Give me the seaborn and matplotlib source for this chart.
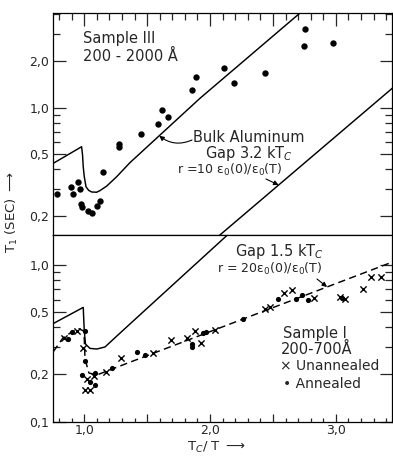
import numpy as np
import pandas as pd
import matplotlib
matplotlib.use("Agg")
import matplotlib.pyplot as plt
import seaborn as sns
from matplotlib.ticker import FixedLocator, FixedFormatter, NullFormatter

# ---------------- data ----------------
# Upper panel: Sample III, 200-2000 A
s3_x = [0.781, 0.892, 0.948, 0.908, 0.966, 0.971, 0.984, 1.027, 1.059, 1.099, 1.127,
        1.146, 1.276, 1.276, 1.451, 1.588, 1.620, 1.663, 1.856, 1.888, 2.108, 2.190,
        2.436, 2.754, 2.749, 2.979]
s3_y = [0.276, 0.306, 0.333, 0.277, 0.297, 0.239, 0.228, 0.216, 0.210, 0.234, 0.251,
        0.386, 0.583, 0.555, 0.673, 0.781, 0.966, 0.875, 1.30, 1.58, 1.79, 1.44,
        1.67, 3.21, 2.51, 2.62]

bulk_top_x = [0.754, 0.979, 0.986, 0.992, 1.000, 1.014, 1.035, 1.059, 1.099, 1.125,
              1.178, 1.258, 1.363, 1.920, 2.715, 2.750]
bulk_top_y = [0.438, 0.560, 0.500, 0.416, 0.360, 0.309, 0.293, 0.286, 0.285, 0.292,
              0.312, 0.359, 0.442, 1.15, 4.08, 4.32]

gap32_x = [2.07, 3.46]
gap32_y = [0.149, 1.36]

# Lower panel: Sample I, 200-700 A
unann_x = [0.837, 0.942, 0.987, 1.019, 1.077, 1.002, 1.044, 1.176, 1.296, 1.548, 1.688,
           1.814, 1.880, 1.928, 2.043, 2.436, 2.480, 2.587, 2.649, 2.826, 3.033, 3.072,
           3.213, 3.283, 3.362]
unann_y = [0.340, 0.379, 0.296, 0.186, 0.195, 0.160, 0.160, 0.206, 0.253, 0.272, 0.330,
           0.340, 0.379, 0.315, 0.383, 0.521, 0.541, 0.662, 0.695, 0.611, 0.626, 0.605,
           0.702, 0.833, 0.841]

ann_x = [0.870, 0.904, 1.002, 1.002, 0.979, 1.048, 1.085, 1.089, 1.218, 1.417, 1.483,
         1.860, 1.858, 1.946, 1.967, 2.264, 2.538, 2.680, 2.728, 2.776, 3.052]
ann_y = [0.336, 0.373, 0.377, 0.245, 0.199, 0.179, 0.204, 0.171, 0.220, 0.279, 0.264,
         0.312, 0.297, 0.366, 0.370, 0.454, 0.608, 0.605, 0.642, 0.599, 0.617]

bulk_bot_x = [0.754, 0.992, 0.996, 1.000, 1.010, 1.045, 1.099, 1.165, 1.240, 1.363, 2.134, 2.170]
bulk_bot_y = [0.422, 0.535, 0.450, 0.380, 0.312, 0.293, 0.290, 0.299, 0.340, 0.419, 1.54, 1.64]

gap15_x = [0.754, 0.831, 0.902, 0.958, 0.998, 1.006, 1.037, 1.099, 1.284, 3.46]
gap15_y = [0.279, 0.342, 0.373, 0.391, 0.377, 0.251, 0.204, 0.198, 0.226, 1.05]

x_major = [1.0, 1.5, 2.0, 2.5, 3.0]
x_major_labels = ["1,0", "", "2,0", "", "3,0"]
x_minor = [0.8, 0.9, 1.1, 1.2, 1.3, 1.4, 1.6, 1.7, 1.8, 1.9, 2.1, 2.2, 2.3, 2.4,
           2.6, 2.7, 2.8, 2.9, 3.1, 3.2, 3.3, 3.4]
top_yticks = [0.2, 0.5, 1.0, 2.0]
top_ylabels = ["0,2", "0,5", "1,0", "2,0"]
top_yminor = [0.3, 0.4, 0.6, 0.7, 0.8, 0.9, 3.0, 4.0]
bot_yticks = [0.1, 0.2, 0.5, 1.0]
bot_ylabels = ["0,1", "0,2", "0,5", "1,0"]
bot_yminor = [0.3, 0.4, 0.6, 0.7, 0.8, 0.9]

# ---------------- figure ----------------
sns.set_style("ticks")
plt.rcParams["font.family"] = ["DejaVu Sans"]
plt.rcParams["axes.linewidth"] = 0.9

W, H = 393, 461
fig = plt.figure(figsize=(W / 100, H / 100), dpi=100)
gs = fig.add_gridspec(2, 1, height_ratios=[222, 186.5], hspace=0,
                      left=53.3 / W, right=392 / W, top=1 - 13 / H, bottom=1 - 421.5 / H)
ax1 = fig.add_subplot(gs[0])
ax2 = fig.add_subplot(gs[1], sharex=ax1)


def F(px, py):
    return (px / W, 1 - py / H)


for ax in (ax1, ax2):
    ax.set_yscale("log")
    ax.set_facecolor("white")
    for s in ax.spines.values():
        s.set_visible(True)
        s.set_color("black")
        s.set_linewidth(0.9)

# upper panel
sns.lineplot(data=pd.DataFrame({"x": bulk_top_x, "y": bulk_top_y}), x="x", y="y", ax=ax1,
             color="black", lw=1.05, sort=False, estimator=None)
sns.lineplot(data=pd.DataFrame({"x": gap32_x, "y": gap32_y}), x="x", y="y", ax=ax1,
             color="black", lw=1.05, sort=False, estimator=None)
sns.scatterplot(x=s3_x, y=s3_y, ax=ax1, color="black", s=21, marker="o", linewidth=0)

# lower panel
sns.lineplot(data=pd.DataFrame({"x": bulk_bot_x, "y": bulk_bot_y}), x="x", y="y", ax=ax2,
             color="black", lw=1.05, sort=False, estimator=None)
sns.lineplot(data=pd.DataFrame({"x": gap15_x, "y": gap15_y}), x="x", y="y", ax=ax2,
             color="black", lw=1.05, sort=False, estimator=None, linestyle=(0, (5, 3)))
sns.scatterplot(x=ann_x, y=ann_y, ax=ax2, color="black", s=14, marker="o", linewidth=0)
sns.scatterplot(x=unann_x, y=unann_y, ax=ax2, color="black", s=20, marker="x", linewidth=1.0)

ax1.set_xlim(0.754, 3.446)
ax1.set_ylim(0.151, 4.08)
ax2.set_ylim(0.1, 1.55)

# ticks
ax2.xaxis.set_major_locator(FixedLocator(x_major))
ax2.xaxis.set_major_formatter(FixedFormatter(x_major_labels))
ax2.xaxis.set_minor_locator(FixedLocator(x_minor))
ax2.xaxis.set_minor_formatter(NullFormatter())

ax1.tick_params(axis="x", which="both", direction="in", top=True, bottom=False,
                labelbottom=False, labeltop=False)
ax1.tick_params(axis="x", which="major", length=9, width=0.9)
ax1.tick_params(axis="x", which="minor", length=5, width=0.9)
ax2.tick_params(axis="x", which="both", direction="in", top=False, bottom=True,
                labelbottom=True)
ax2.tick_params(axis="x", which="major", length=6, width=0.9, pad=2, labelsize=9)
ax2.tick_params(axis="x", which="minor", length=3, width=0.9)

for ax, yt, yl, ym in ((ax1, top_yticks, top_ylabels, top_yminor),
                       (ax2, bot_yticks, bot_ylabels, bot_yminor)):
    ax.yaxis.set_major_locator(FixedLocator(yt))
    ax.yaxis.set_major_formatter(FixedFormatter(yl))
    ax.yaxis.set_minor_locator(FixedLocator(ym))
    ax.yaxis.set_minor_formatter(NullFormatter())
    ax.tick_params(axis="y", which="both", direction="in", left=True, right=True)
    ax.tick_params(axis="y", which="major", length=9, width=0.9, pad=3, labelsize=9)
    ax.tick_params(axis="y", which="minor", length=5, width=0.9)
    ax.set_xlabel("")
    ax.set_ylabel("")

# ---------------- text ----------------
fig.text(*F(83, 43), "Sample III", fontsize=10.5, va="baseline", ha="left")
fig.text(*F(83, 61), "200 - 2000 Å", fontsize=10.5, va="baseline", ha="left")
fig.text(*F(193, 142), "Bulk Aluminum", fontsize=10.5, va="baseline", ha="left")
fig.text(*F(205, 158), "Gap 3.2 kT$_C$", fontsize=10.5, va="baseline", ha="left")
fig.text(*F(177, 174), "r =10 ε$_0$(0)/ε$_0$(T)", fontsize=9, va="baseline", ha="left")

fig.text(*F(235, 256), "Gap 1.5 kT$_C$", fontsize=10.5, va="baseline", ha="left")
fig.text(*F(217, 273), "r = 20ε$_0$(0)/ε$_0$(T)", fontsize=9, va="baseline", ha="left")
fig.text(*F(283, 338), "Sample I", fontsize=10.5, va="baseline", ha="left")
fig.text(*F(281, 354), "200-700Å", fontsize=10.5, va="baseline", ha="left")
fig.text(*F(280, 370), "× Unannealed", fontsize=10, va="baseline", ha="left")
fig.text(*F(283, 388), "• Annealed", fontsize=10, va="baseline", ha="left")

fig.text(*F(12, 212), r"T$_1$ (SEC) $\longrightarrow$", fontsize=9.5, rotation=90,
         ha="center", va="center")
fig.text(*F(216, 447), r"T$_C$/ T $\longrightarrow$", fontsize=9.5, ha="center", va="center")


def on_line(xs, ys, xq):
    return 10 ** np.interp(xq, xs, np.log10(ys))


arrow = dict(arrowstyle="-|>", color="black", lw=0.8, mutation_scale=7, shrinkA=0, shrinkB=0)
xa = 1.596
ax1.annotate("", xy=(xa, on_line(bulk_top_x, bulk_top_y, xa)), xycoords="data",
             xytext=F(192, 140), textcoords="figure fraction",
             arrowprops=dict(arrow, connectionstyle="arc3,rad=-0.3"))
xb = 2.545
ax1.annotate("", xy=(xb, on_line(gap32_x, gap32_y, xb)), xycoords="data",
             xytext=F(266, 179), textcoords="figure fraction",
             arrowprops=dict(arrow, connectionstyle="arc3,rad=0"))
xc = 2.93
ax2.annotate("", xy=(xc, on_line(gap15_x, gap15_y, xc)), xycoords="data",
             xytext=F(317, 279), textcoords="figure fraction",
             arrowprops=dict(arrow, connectionstyle="arc3,rad=0"))

fig.savefig("out.png", dpi=100, facecolor="white")
